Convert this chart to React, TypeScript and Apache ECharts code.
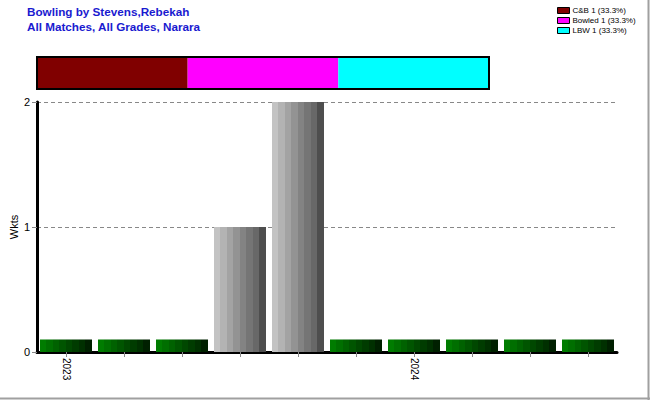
import React, { useEffect, useRef } from "react";
import * as echarts from "echarts";

const titleLines = ["Bowling by Stevens,Rebekah", "All Matches, All Grades, Narara"];
const categories = ["2023", "", "", "", "", "", "2024", "", "", ""];
const wickets = [0, 0, 0, 1, 2, 0, 0, 0, 0, 0];
const dismissalTypes = ["C&B", "Bowled", "LBW"];
const dismissalCounts = [1, 1, 1];
const dismissalColors = ["#800000", "#ff00ff", "#00ffff"];
const yTicks = [0, 1, 2];

const ZERO_STUB = 0.1;

function stripes(colors: string[]) {
  const stops: { offset: number; color: string }[] = [];
  const n = colors.length;
  colors.forEach((c, i) => {
    stops.push({ offset: i / n, color: c });
    stops.push({ offset: (i + 1) / n - 0.0001, color: c });
  });
  return new echarts.graphic.LinearGradient(0, 0, 1, 0, stops);
}

const grayBands = ["#c3c3c3", "#b3b3b3", "#a3a3a3", "#939393", "#838383", "#757575", "#686868", "#4e4e4e"];
const greenBands = ["#007c00", "#006f00", "#006200", "#005500", "#004800", "#003c00", "#003000", "#002000"];

export default function App() {
  const ref = useRef<HTMLDivElement>(null);
  useEffect(() => {
    if (!ref.current) return;
    const chart = echarts.init(ref.current, null, { renderer: "svg" });
    const total = dismissalCounts.reduce((a, b) => a + b, 0);
    const grayFill = stripes(grayBands);
    const greenFill = stripes(greenBands);
    const font = "Arial, 'Liberation Sans', sans-serif";

    chart.setOption({
      animation: false,
      backgroundColor: "#ffffff",
      title: {
        text: titleLines.join("\n"),
        left: 22,
        top: -1,
        textStyle: {
          fontFamily: font,
          fontSize: 11.7,
          fontWeight: "bold",
          color: "#1a1ad0",
          lineHeight: 15,
        },
      },
      legend: {
        orient: "vertical",
        left: 557,
        top: 6,
        padding: 0,
        itemWidth: 12,
        itemHeight: 6,
        itemGap: 1,
        icon: "rect",
        data: dismissalTypes,
        itemStyle: { borderColor: "#000", borderWidth: 1 },
        textStyle: { fontFamily: font, fontSize: 8, color: "#000", lineHeight: 9, padding: [0, 0, 0, -2] },
        formatter: (name: string) => {
          const i = dismissalTypes.indexOf(name);
          const c = dismissalCounts[i];
          return `${name} ${c} (${((c / total) * 100).toFixed(1)}%)`;
        },
        selectedMode: false,
      },
      grid: [
        { left: 37, top: 102, width: 580, height: 250, containLabel: false, outerBoundsMode: "none" },
        { left: 37, top: 57, width: 452, height: 32, containLabel: false, outerBoundsMode: "none" },
      ],
      xAxis: [
        {
          type: "category",
          gridIndex: 0,
          data: categories,
          axisLine: { show: true, lineStyle: { color: "#000", width: 3 } },
          axisTick: { show: true, alignWithLabel: true, interval: 0, length: 5, lineStyle: { color: "#888", width: 1 } },
          axisLabel: {
            interval: 0,
            rotate: -90,
            margin: 6,
            fontFamily: font,
            fontSize: 10,
            color: "#000",
          },
        },
        {
          type: "value",
          gridIndex: 1,
          min: 0,
          max: total,
          show: false,
        },
      ],
      yAxis: [
        {
          type: "value",
          gridIndex: 0,
          min: 0,
          max: 2,
          interval: 1,
          name: "Wkts",
          nameLocation: "middle",
          nameGap: 18,
          nameMoveOverlap: false,
          nameRotate: 90,
          nameTextStyle: { fontFamily: font, fontSize: 11, color: "#000" },
          axisLine: { show: true, lineStyle: { color: "#000", width: 3 } },
          axisTick: { show: true, length: 5, lineStyle: { color: "#888", width: 1 } },
          axisLabel: {
            fontFamily: font,
            fontSize: 11,
            color: "#000",
            margin: 7,
            formatter: (v: number) => (yTicks.includes(v) ? String(v) : ""),
          },
          splitLine: { show: true, lineStyle: { color: "#888", type: [4, 3], width: 1 } },
        },
        {
          type: "category",
          gridIndex: 1,
          data: ["all"],
          show: false,
        },
      ],
      series: [
        {
          type: "bar",
          xAxisIndex: 0,
          yAxisIndex: 0,
          barWidth: 52,
          data: wickets.map((w) => ({
            value: w === 0 ? ZERO_STUB : w,
            itemStyle: { color: w === 0 ? greenFill : grayFill },
          })),
        },
        ...dismissalTypes.map((name, i) => ({
          type: "bar",
          name,
          xAxisIndex: 1,
          yAxisIndex: 1,
          stack: "dismissals",
          barWidth: "100%",
          data: [dismissalCounts[i]],
          itemStyle: { color: dismissalColors[i] },
        })),
      ],
      graphic: [
        {
          type: "rect",
          shape: { x: 37, y: 57, width: 452, height: 32 },
          style: { fill: "none", stroke: "#000", lineWidth: 2 },
          z: 100,
        },
        {
          type: "line",
          shape: { x1: 648.5, y1: 0, x2: 648.5, y2: 400 },
          style: { stroke: "#a0a0a0", lineWidth: 2 },
        },
        {
          type: "line",
          shape: { x1: 0, y1: 398.5, x2: 650, y2: 398.5 },
          style: { stroke: "#a0a0a0", lineWidth: 2 },
        },
      ],
    });
    return () => chart.dispose();
  }, []);
  return (
    <div
      ref={ref}
      style={{ position: "fixed", left: 0, top: 0, width: 650, height: 400 }}
    />
  );
}
